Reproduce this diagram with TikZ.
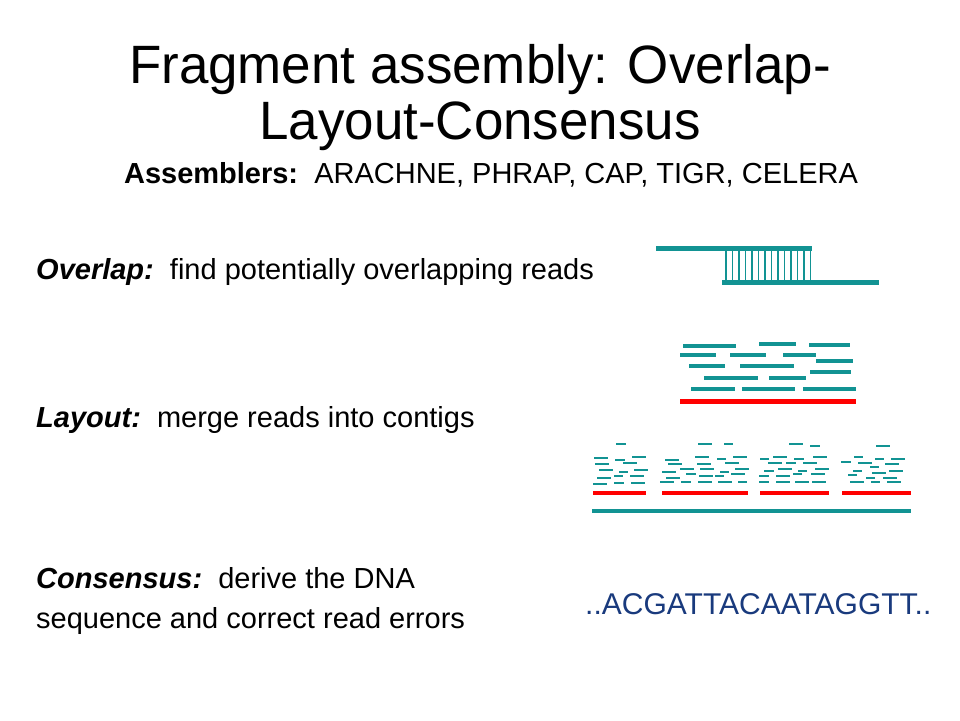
\documentclass[tikz,border=0pt]{standalone}
\usepackage{fontspec}
\setmainfont{Liberation Sans}
\usetikzlibrary{positioning}
\definecolor{readteal}{RGB}{18,147,147}
\definecolor{contigred}{RGB}{255,0,0}
\definecolor{seqblue}{RGB}{25,58,125}

\begin{document}
\begin{tikzpicture}[x=1pt, y=-1pt,
    title/.style={anchor=base, inner sep=0pt, font=\fontsize{54}{54}\selectfont},
    body/.style={anchor=base west, inner sep=0pt, font=\fontsize{29}{34}\selectfont},
    read/.style={readteal, line width=3.5pt},
    shortread/.style={readteal, line width=2.5pt},
    contig/.style={contigred, line width=4.5pt}]
\useasboundingbox (0,0) rectangle (960,720);

    \node[title] (t1) at (480,83) {\scalebox{0.98}[1]{Fragment assembly: Overlap-}};
    \node[title] (t2) at (480,139) {\scalebox{0.98}[1]{Layout-Consensus}};
    \node[body, anchor=base] (asm) at (491,183) {\textbf{Assemblers:}\ \ ARACHNE, PHRAP, CAP, TIGR, CELERA};

    \node[body] (ovl) at (36,279) {\textbf{\textit{Overlap:}}\ \ find potentially overlapping reads};
    \node[body] (lay) at (36,427) {\textbf{\textit{Layout:}}\ \ merge reads into contigs};
    \node[body] (cns) at (36,588) {\textbf{\textit{Consensus:}}\ \ derive the DNA};
    \node[body] (cns2) at (36,628) {sequence and correct read errors};
    \node[body, text=seqblue, font=\fontsize{30}{34}\selectfont] (seq) at (585,614) {..ACGATTACAATAGGTT..};

    % overlap
    \draw[readteal, line width=5pt] (656,248) -- (812,248);
    \draw[readteal, line width=5pt] (722,282) -- (879,282);
    \foreach \x in {0,...,13}
      \draw[readteal, line width=1.2pt] (726+\x*6.5,250.5) -- (726+\x*6.5,279.5);

    % layout
    \foreach \a/\b/\c in {683/736/346, 759/796/344, 809/850/345, 680/716/355,
        730/766/355, 783/816/355, 816/853/361, 689/725/366, 740/794/366,
        810/851/372, 704/758/378, 769/806/378, 691/735/389, 742/795/389, 803/856/389}
      \draw[read] (\a,\c) -- (\b,\c);
    \draw[contig, line width=5pt] (680,401) -- (856,401);

    % contigs
    \foreach \a/\b/\c in {616/626/444, 594/608/458, 632/646/457, 615/625/460,
        623/637/463, 595/609/464, 599/613/470, 634/648/470, 619/628/472,
        614/623/476, 630/644/476, 597/611/478, 614/624/483, 631/645/483, 593/607/484,
        698/712/444, 724/733/444, 695/709/457, 733/747/457, 717/726/459,
        665/679/460, 725/739/463, 668/682/464, 697/711/464, 680/694/469,
        700/714/469, 735/749/469, 662/676/472, 720/729/472, 686/696/474,
        731/745/474, 699/713/476, 715/724/476, 666/680/478, 660/674/482,
        681/691/482, 698/712/482, 718/732/482, 738/747/482,
        789/803/444, 810/820/446, 773/787/457, 813/827/457, 760/769/459,
        794/804/459, 768/782/463, 786/796/463, 803/817/463, 778/792/469,
        815/829/469, 764/774/471, 798/807/471, 793/802/474, 811/825/474,
        759/769/476, 776/790/476, 759/769/482, 776/790/482, 795/809/482, 812/826/482,
        876/890/446, 854/863/457, 891/905/459, 875/884/459, 841/851/462,
        858/872/463, 885/899/464, 870/879/467, 853/862/471, 889/903/471,
        872/886/473, 848/857/475, 866/875/478, 883/897/478, 850/864/482,
        871/880/482, 887/901/482}
      \draw[shortread] (\a,\c) -- (\b,\c);
    \foreach \a/\b in {593/646, 662/748, 760/829, 842/911}
      \draw[contig] (\a,493) -- (\b,493);
    \draw[readteal, line width=4pt] (592,511) -- (911,511);

\end{tikzpicture}
\end{document}
